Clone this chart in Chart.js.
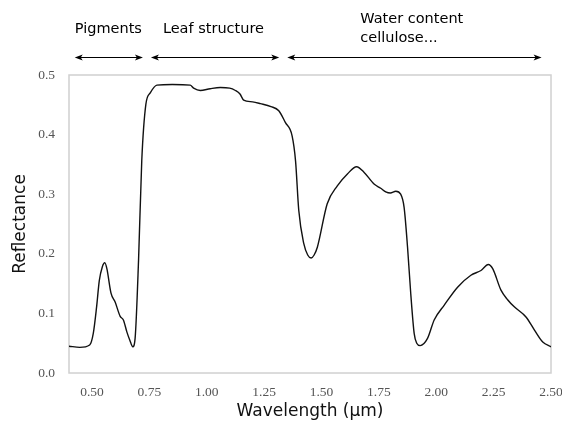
<!DOCTYPE html>
<html>
<head>
<meta charset="utf-8">
<script src="https://cdn.jsdelivr.net/npm/chart.js@4/dist/chart.umd.min.js"></script>
<style>
  html, body { margin: 0; padding: 0; background: #fff; }
  #wrap { width: 562px; height: 427px; }
</style>
</head>
<body>
<div id="wrap"><canvas id="myChart" width="562" height="427"></canvas></div>
<script>
// data ===============================================================
const wavelength = [0.400, 0.447, 0.490, 0.506, 0.520, 0.532, 0.545, 0.556, 0.565, 0.583, 0.601, 0.623, 0.637,
  0.652, 0.665, 0.678, 0.688, 0.703, 0.717, 0.735, 0.754, 0.783, 0.850, 0.928, 0.943, 0.972, 1.015, 1.059, 1.100,
  1.125, 1.145, 1.161, 1.200, 1.234, 1.280, 1.314, 1.343, 1.372, 1.387, 1.401, 1.423, 1.440, 1.455, 1.468, 1.482,
  1.525, 1.569, 1.613, 1.653, 1.685, 1.729, 1.758, 1.780, 1.800, 1.824, 1.845, 1.860, 1.875, 1.889, 1.904, 1.915,
  1.930, 1.962, 1.991, 2.035, 2.093, 2.151, 2.195, 2.227, 2.246, 2.282, 2.311, 2.340, 2.391, 2.428, 2.464, 2.500];
const reflectance = [0.045, 0.043, 0.047, 0.067, 0.110, 0.155, 0.178, 0.185, 0.175, 0.134, 0.119, 0.095, 0.089,
  0.069, 0.055, 0.044, 0.058, 0.189, 0.356, 0.451, 0.470, 0.483, 0.484, 0.483, 0.478, 0.474, 0.477, 0.479, 0.478,
  0.474, 0.468, 0.458, 0.455, 0.452, 0.447, 0.440, 0.420, 0.398, 0.356, 0.273, 0.217, 0.198, 0.193, 0.198, 0.211,
  0.284, 0.314, 0.334, 0.346, 0.337, 0.317, 0.310, 0.304, 0.302, 0.305, 0.300, 0.278, 0.211, 0.133, 0.066, 0.050,
  0.046, 0.058, 0.089, 0.114, 0.144, 0.164, 0.172, 0.182, 0.175, 0.139, 0.123, 0.111, 0.094, 0.072, 0.052, 0.044];

// region labels above the plot (x range in µm)
const regionNames = [["Pigments"], ["Leaf structure"], ["Water content", "cellulose..."]];
const regionStart = [0.425, 0.757, 1.351];
const regionEnd = [0.722, 1.316, 2.459];
const regionTextX = [0.425, 0.809, 1.669];

// plugins ===============================================================
function chartBorder(_width, _color) {
    return {
        id: 'chartAreaBorder',
        beforeDraw(chart) {
            const { ctx, chartArea: { left, top, width, height } } = chart;
            ctx.save();
            ctx.strokeStyle = _color;
            ctx.lineWidth = _width;
            ctx.strokeRect(left, top, width, height);
            ctx.restore();
        }
    };
}

function arrowHead(ctx, x, y, dir) {
    ctx.beginPath();
    ctx.moveTo(x, y);
    ctx.lineTo(x - dir * 8, y - 3);
    ctx.lineTo(x - dir * 6, y);
    ctx.lineTo(x - dir * 8, y + 3);
    ctx.closePath();
    ctx.fill();
}

const regions = {
    id: 'regions',
    afterDraw(chart) {
        const ctx = chart.ctx;
        const xs = chart.scales.x;
        ctx.save();
        ctx.strokeStyle = '#000';
        ctx.fillStyle = '#000';
        ctx.lineWidth = 1.2;
        const ay = 57.5;
        for (let i = 0; i < regionNames.length; i++) {
            const x0 = xs.getPixelForValue(regionStart[i]);
            const x1 = xs.getPixelForValue(regionEnd[i]);
            ctx.beginPath();
            ctx.moveTo(x0 + 4, ay);
            ctx.lineTo(x1 - 4, ay);
            ctx.stroke();
            arrowHead(ctx, x0, ay, -1);
            arrowHead(ctx, x1, ay, 1);
            // text
            ctx.font = '14.5px "DejaVu Sans"';
            ctx.textAlign = 'left';
            ctx.textBaseline = 'alphabetic';
            const tx = xs.getPixelForValue(regionTextX[i]);
            const lines = regionNames[i];
            const base = lines.length == 1 ? 32.5 : 22.5;
            for (let j = 0; j < lines.length; j++) {
                ctx.fillText(lines[j], tx, base + j * 19);
            }
        }
        ctx.restore();
    }
};

// chart ===============================================================
function plot_line() {
    let ctx = document.getElementById("myChart");
    let points = wavelength.map((w, i) => ({ x: w, y: reflectance[i] }));
    let tickFont = { family: '"Liberation Serif", serif', size: 13.5 };
    let options = {
        responsive: false,
        animation: false,
        layout: { padding: { top: 75, right: 11, left: 0, bottom: 0 } },
        plugins: { legend: { display: false }, tooltip: { enabled: false } },
        scales: {
            x: {
                type: 'linear',
                min: 0.4,
                max: 2.5,
                grid: { display: false, drawTicks: false },
                border: { display: false },
                ticks: {
                    stepSize: 0.25,
                    includeBounds: false,
                    padding: 11,
                    color: '#555',
                    font: tickFont,
                    maxRotation: 0,
                    callback: (v) => v.toFixed(2)
                },
                title: {
                    display: true,
                    text: 'Wavelength (µm)',
                    color: '#111',
                    font: { family: '"DejaVu Sans"', size: 17 },
                    padding: { top: 0, bottom: 5 }
                },
                afterFit: (s) => { s.height = 54; s.paddingLeft = 0; s.paddingRight = 0; }
            },
            y: {
                min: 0,
                max: 0.5,
                grid: { display: false, drawTicks: false },
                border: { display: false },
                ticks: {
                    stepSize: 0.1,
                    padding: 14,
                    color: '#555',
                    font: tickFont,
                    callback: (v) => v.toFixed(1)
                },
                title: {
                    display: true,
                    text: 'Reflectance',
                    color: '#111',
                    font: { family: '"DejaVu Sans"', size: 17 },
                    padding: { top: 10, bottom: 0 }
                },
                afterFit: (s) => { s.width = 69; s.paddingTop = 0; s.paddingBottom = 0; }
            }
        }
    };
    new Chart(ctx, {
        type: 'line',
        data: {
            datasets: [{
                data: points,
                borderColor: '#111',
                borderWidth: 1.4,
                pointRadius: 0,
                fill: false,
                cubicInterpolationMode: 'monotone'
            }]
        },
        options: options,
        plugins: [chartBorder(1.5, '#d0d0d0'), regions]
    });
}
plot_line();
</script>
</body>
</html>
